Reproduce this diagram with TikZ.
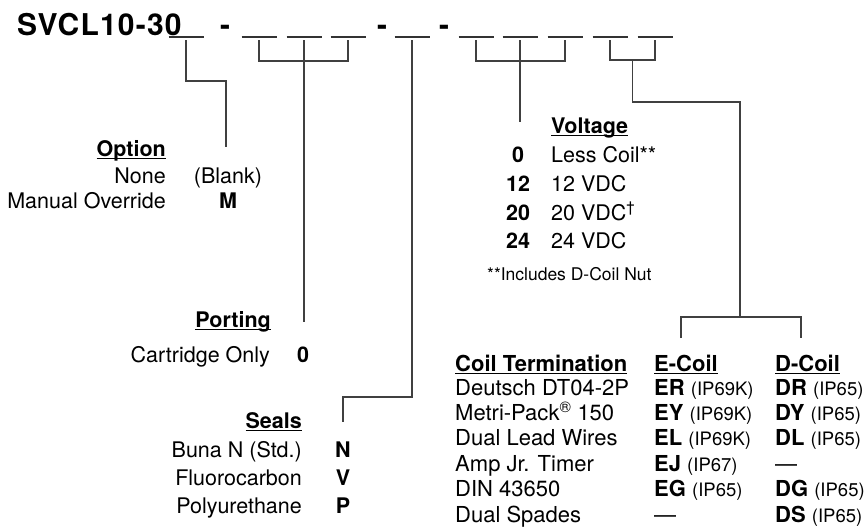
\documentclass[tikz,border=0pt]{standalone}
\usepackage{fontspec}
\setmainfont{TeX Gyre Heros}
\newfontfamily\titlefont[LetterSpace=4]{TeX Gyre Heros}
\usetikzlibrary{calc}

\newcommand{\hd}[1]{\setbox0\hbox{\bfseries #1}\rlap{\rule[-3.2pt]{\wd0}{1.4pt}}\box0}
\newcommand{\ip}[1]{{\fontsize{18.5}{21}\selectfont (IP#1)}}

\tikzset{
    txt/.style={inner sep=0pt, font=\fontsize{21.5}{25}\selectfont},
    tbl/.style={inner sep=0pt, font=\fontsize{22}{25}\selectfont},
    title/.style={inner sep=0pt, font=\titlefont\fontsize{30}{34}\selectfont\bfseries},
    note/.style={inner sep=0pt, font=\fontsize{17.5}{21}\selectfont},
    slot/.style={line width=1.8pt, black!80},
    link/.style={line width=1.2pt, black!75},
}

\begin{document}
\begin{tikzpicture}[x=1pt, y=-1pt]
    \useasboundingbox (0,0) rectangle (868,531);

    % Draw model code
    \node[title, anchor=base west] (model) at (17,35) {SVCL10-30};
    \node[title, anchor=base] (dash1) at (225,35) {-};
    \node[title, anchor=base] (dash2) at (382,35) {-};
    \node[title, anchor=base] (dash3) at (444,35) {-};
    \foreach \n/\x in {1/186, 2/259, 3/304, 4/348, 5/412, 6/476, 7/520, 8/565, 9/610, 10/655} {
        \draw[slot] (\x-17.5, 37) -- (\x+17.5, 37);
        \coordinate (s\n) at (\x, 40);
    }

    % Option
    \node[txt, anchor=base east] (opt) at (166,156) {\hd{Option}};
    \node[txt, anchor=base east] (opt1) at (166,183) {None};
    \node[txt, anchor=base east] (opt2) at (166,208) {Manual Override};
    \node[txt, anchor=base] (optc1) at (228,183) {(Blank)};
    \node[txt, anchor=base] (optc2) at (228,208) {\textbf{M}};
    \coordinate (optEnd) at (226,147);
    \draw[link] (s1) -- ++(0,41) -| (optEnd);

    % Porting
    \node[txt, anchor=base east] (port) at (271,327) {\hd{Porting}};
    \node[txt, anchor=base east] (port1) at (270,362) {Cartridge Only};
    \node[txt, anchor=base] (portc1) at (303,362) {\textbf{0}};
    \coordinate (portMid) at (304,61);
    \coordinate (portEnd) at (304,322);
    \draw[link] (s2) |- (portMid) -| (s4);
    \draw[link] (s3) -- (portEnd);

    % Seals
    \node[txt, anchor=base east] (seal) at (302,428) {\hd{Seals}};
    \node[txt, anchor=base east] (seal1) at (302,457) {Buna N (Std.)};
    \node[txt, anchor=base east] (seal2) at (302,485) {Fluorocarbon};
    \node[txt, anchor=base east] (seal3) at (302,513) {Polyurethane};
    \node[txt, anchor=base] (sealc1) at (343,457) {\textbf{N}};
    \node[txt, anchor=base] (sealc2) at (343,485) {\textbf{V}};
    \node[txt, anchor=base] (sealc3) at (343,513) {\textbf{P}};
    \coordinate (sealEnd) at (343,422);
    \draw[link] (s5) -- ++(0,357) -| (sealEnd);

    % Voltage
    \node[txt, anchor=base west] (volt) at (551,133) {\hd{Voltage}};
    \node[txt, anchor=base] (voltc1) at (518,162) {\textbf{0}};
    \node[txt, anchor=base] (voltc2) at (518,191) {\textbf{12}};
    \node[txt, anchor=base] (voltc3) at (518,220) {\textbf{20}};
    \node[txt, anchor=base] (voltc4) at (518,248) {\textbf{24}};
    \node[txt, anchor=base west] (volt1) at (551,162) {Less Coil**};
    \node[txt, anchor=base west] (volt2) at (551,191) {12 VDC};
    \node[txt, anchor=base west] (volt3) at (551,220) {20 VDC\textsuperscript{\dag}};
    \node[txt, anchor=base west] (volt4) at (551,248) {24 VDC};
    \node[note, anchor=base west] (voltnote) at (487,280) {**Includes D-Coil Nut};
    \coordinate (voltMid) at (520,61);
    \coordinate (voltEnd) at (520,122);
    \draw[link] (s6) |- (voltMid) -| (s8);
    \draw[link] (s7) -- (voltEnd);

    % Coil termination
    \node[tbl, anchor=base west] (term) at (455,371) {\hd{Coil Termination}};
    \node[tbl, anchor=base west] (ecoil) at (654,371) {\hd{E-Coil}};
    \node[tbl, anchor=base west] (dcoil) at (775,371) {\hd{D-Coil}};
    \foreach \i/\lab/\e/\d in {
        1/{Deutsch DT04-2P}/{\textbf{ER} \ip{69K}}/{\textbf{DR} \ip{65}},
        2/{Metri-Pack\textsuperscript{\textregistered} 150}/{\textbf{EY} \ip{69K}}/{\textbf{DY} \ip{65}},
        3/{Dual Lead Wires}/{\textbf{EL} \ip{69K}}/{\textbf{DL} \ip{65}},
        4/{Amp Jr. Timer}/{\textbf{EJ} \ip{67}}/{---},
        5/{DIN 43650}/{\textbf{EG} \ip{65}}/{\textbf{DG} \ip{65}},
        6/{Dual Spades}/{---}/{\textbf{DS} \ip{65}}} {
        \node[tbl, anchor=base west] (term\i) at (455, {395+25.4*(\i-1)}) {\lab};
        \node[tbl, anchor=base west] (ecoil\i) at (654, {395+25.4*(\i-1)}) {\e};
        \node[tbl, anchor=base west] (dcoil\i) at (775, {395+25.4*(\i-1)}) {\d};
    }
    \coordinate (coilMid) at (632.5,60);
    \coordinate (coilSplit) at (740,317);
    \coordinate (ecoilEnd) at (681,338);
    \coordinate (dcoilEnd) at (801,338);
    \draw[link] (s9) |- (coilMid) -| (s10);
    \draw[link] (coilMid) -- ++(0,42) -| (coilSplit);
    \draw[link] (ecoilEnd) |- (coilSplit) -| (dcoilEnd);
\end{tikzpicture}
\end{document}
